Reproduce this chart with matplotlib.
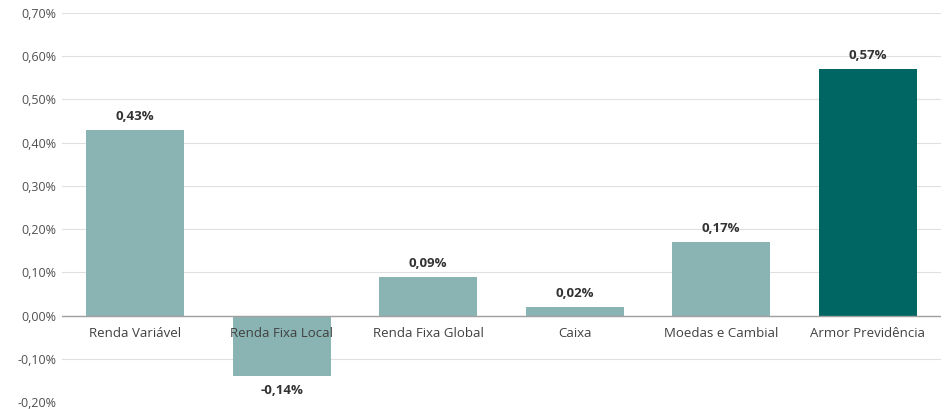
import matplotlib
matplotlib.use("Agg")
import matplotlib.pyplot as plt
from matplotlib.ticker import FuncFormatter

categories = ["Renda Variável", "Renda Fixa Local", "Renda Fixa Global", "Caixa", "Moedas e Cambial", "Armor Previdência"]
values = [0.43, -0.14, 0.09, 0.02, 0.17, 0.57]
colors = ["#8AB4B3", "#8AB4B3", "#8AB4B3", "#8AB4B3", "#8AB4B3", "#006663"]
yticks = [-0.2, -0.1, 0.0, 0.1, 0.2, 0.3, 0.4, 0.5, 0.6, 0.7]

plt.rcParams['font.family'] = ['Open Sans', 'DejaVu Sans']

fig = plt.figure(figsize=(9.45, 4.09), dpi=100)
ax = fig.add_axes([62/945, 1-402/409, 879/945, (402-13)/409])

x = list(range(len(categories)))
ax.bar(x, values, width=0.67, color=colors, zorder=3)

ax.set_xlim(-0.5, len(categories)-0.5)
ax.set_ylim(-0.2, 0.7)
ax.set_yticks(yticks)
ax.yaxis.set_major_formatter(FuncFormatter(lambda v, p: f"{v:.2f}%".replace(".", ",").replace("-0,00", "0,00")))
ax.tick_params(axis='y', length=0, labelsize=9, labelcolor="#505050", pad=4)
ax.set_xticks([])
ax.grid(axis='y', color="#E0E0E0", linewidth=0.8, zorder=0)
for s in ax.spines.values():
    s.set_visible(False)
ax.axhline(0, color="#A0A0A0", linewidth=1.0, zorder=4)

for xi, v, c in zip(x, values, categories):
    if v >= 0:
        ax.annotate(f"{v:.2f}%".replace(".", ","), (xi, v), xytext=(0, 5), textcoords="offset points",
                    ha="center", va="bottom", fontsize=9.5, fontweight="bold", color="#333333")
    else:
        ax.annotate(f"{v:.2f}%".replace(".", ","), (xi, v), xytext=(0, -6), textcoords="offset points",
                    ha="center", va="top", fontsize=9.5, fontweight="bold", color="#333333")
    ax.annotate(c, (xi, 0), xytext=(0, -8), textcoords="offset points",
                ha="center", va="top", fontsize=9.5, color="#404040", zorder=5)

fig.savefig("out.png", dpi=100)
